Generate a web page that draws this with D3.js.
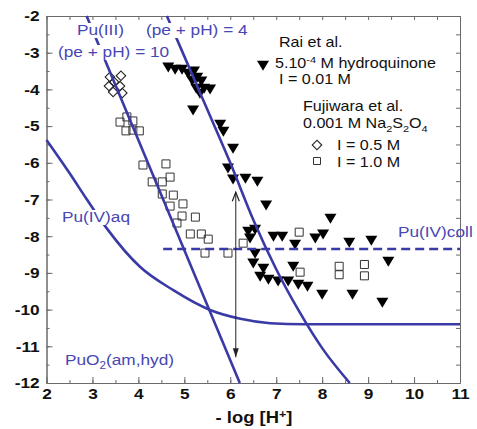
<!DOCTYPE html>
<html><head><meta charset="utf-8">
<script src="https://cdn.jsdelivr.net/npm/d3@7"></script>
<style>body{margin:0;background:#fff} svg{display:block}</style>
</head><body><svg id="c" width="477" height="429"></svg>
<script>
// ---------- data ----------
const xTicks = [2, 3, 4, 5, 6, 7, 8, 9, 10, 11];
const yTicks = [-2, -3, -4, -5, -6, -7, -8, -9, -10, -11, -12];

// Rai et al., 5.10^-4 M hydroquinone, I = 0.01 M  [-log H+, log Pu]
const raiTriangles = [
  [4.65,-3.36],[4.80,-3.42],[4.95,-3.42],[5.08,-3.53],[5.21,-3.47],[5.28,-3.64],
  [5.17,-3.72],[5.37,-3.74],[5.26,-3.94],[5.43,-3.94],[5.56,-3.96],[5.34,-4.07],
  [5.19,-4.53],[5.78,-4.92],[5.85,-5.11],[6.06,-5.57],[5.95,-6.11],[6.06,-6.41],
  [6.33,-6.39],[6.59,-6.47],[6.78,-7.12],[8.18,-7.48],[6.39,-7.83],[6.54,-7.78],
  [6.94,-7.97],[7.13,-7.97],[7.41,-8.19],[7.85,-8.02],[8.02,-7.91],[8.59,-8.13],
  [9.07,-8.08],[9.44,-8.65],[6.50,-8.70],[6.72,-8.84],[7.37,-8.79],[6.65,-9.06],
  [6.83,-9.14],[7.04,-9.19],[7.26,-9.19],[7.48,-9.28],[7.68,-9.33],[8.00,-9.55],
  [8.66,-9.55],[9.31,-9.77],[6.54,-8.43],[6.43,-8.02]
];
// Fujiwara et al., I = 0.5 M
const fujiDiamonds = [
  [3.38,-3.66],[3.62,-3.63],[3.47,-3.80],[3.36,-3.91],[3.60,-3.91],[3.45,-4.07],[3.65,-4.10]
];
// Fujiwara et al., I = 1.0 M
const fujiSquares = [
  [3.60,-4.89],[3.75,-4.75],[3.88,-4.86],[3.73,-5.13],[3.88,-5.11],[4.02,-5.13],
  [4.10,-6.06],[4.60,-6.03],[4.69,-6.39],[4.30,-6.52],[4.52,-6.52],[4.52,-6.85],
  [4.76,-6.88],[4.69,-7.18],[4.97,-7.12],[4.95,-7.45],[5.24,-7.48],[4.84,-7.64],
  [5.13,-7.94],[5.37,-7.94],[5.52,-8.08],[5.45,-8.46],[5.95,-8.46],[6.28,-8.19],
  [7.50,-7.89],[7.52,-8.98],[8.37,-8.82],[8.37,-9.05],[8.92,-8.77],[8.92,-9.08]
];
// model curves
const puIII_pe10 = [[2.873,-2],[6.207,-12]];
const puIII_pe4 = [[4.62,-2],[5.0,-3.1],[5.5,-4.55],[6.0,-6.0],[6.5,-7.55],[7.0,-8.9],[7.5,-10.05],[8.0,-11.05],[8.6,-12]];
const puIVaq = [[2,-5.38],[2.5,-6.28],[2.88,-7.0],[3.32,-7.8],[4.04,-8.84],[4.76,-9.47],[5.56,-10.01],[6.22,-10.25],[6.87,-10.37],[7.6,-10.4],[11,-10.4]];
const puIVcoll = [[4.54,-8.35],[11,-8.35]];
const rangeArrow = [[6.12,-6.8],[6.12,-11.3]];

// ---------- setup ----------
const svg = d3.select("#c");
const x = d3.scaleLinear().domain([2, 11]).range([46.5, 460]);
const y = d3.scaleLinear().domain([-2, -12]).range([16, 383]);
const FONT = "'Liberation Sans', Arial, Helvetica, sans-serif";
const SX = 1.15;
const BLUE = "#3a3aa6", TBLUE = "#4646b4", FRAME = "#6a6a6a";

// ---------- axes (inward ticks on all 4 sides) ----------
const xMinor = d3.range(2, 11.001, 0.5), yMinor = d3.range(-2, -12.001, -0.5);
function styleAxis(g){ g.selectAll("path,line").attr("stroke", FRAME).attr("stroke-width", 1); }
svg.append("g").attr("transform", `translate(0,${y(-12)})`)
  .call(d3.axisBottom(x).tickValues(xMinor).tickSizeInner(-3).tickSizeOuter(0).tickFormat(""))
  .call(styleAxis);
const gx = svg.append("g").attr("transform", `translate(0,${y(-12)})`)
  .call(d3.axisBottom(x).tickValues(xTicks).tickSizeInner(-6).tickSizeOuter(0).tickPadding(5).tickFormat(d3.format("d")))
  .call(styleAxis);
svg.append("g").attr("transform", `translate(0,${y(-2)})`)
  .call(d3.axisTop(x).tickValues(xMinor).tickSizeInner(-4).tickSizeOuter(0).tickFormat(""))
  .call(styleAxis);
svg.append("g").attr("transform", `translate(${x(2)},0)`)
  .call(d3.axisLeft(y).tickValues(yMinor).tickSizeInner(-3).tickSizeOuter(0).tickFormat(""))
  .call(styleAxis);
const gy = svg.append("g").attr("transform", `translate(${x(2)},0)`)
  .call(d3.axisLeft(y).tickValues(yTicks).tickSizeInner(-6).tickSizeOuter(0).tickPadding(6).tickFormat(d3.format("d")))
  .call(styleAxis);
svg.append("g").attr("transform", `translate(${x(11)},0)`)
  .call(d3.axisRight(y).tickValues(yMinor).tickSizeInner(-4).tickSizeOuter(0).tickFormat(""))
  .call(styleAxis);
[gx, gy].forEach(g => g.selectAll("text")
  .attr("fill", "#111").attr("font-family", FONT).attr("font-size", 15).attr("font-weight", "bold")
  .attr("transform", `scale(${SX},1)`));
gy.selectAll("text").text(d => d < 0 ? "-" + Math.abs(d) : d);

// ---------- markers ----------
const downTri = { draw(ctx, size){ const s = Math.sqrt(size), hw = s*0.6;
  ctx.moveTo(-hw, -s/3); ctx.lineTo(hw, -s/3); ctx.lineTo(0, 2*s/3); ctx.closePath(); } };
svg.append("g").selectAll("path").data(raiTriangles).join("path")
  .attr("transform", d => `translate(${x(d[0])},${y(d[1])})`)
  .attr("d", d3.symbol().type(downTri).size(100)).attr("fill", "#000");
svg.append("g").selectAll("path").data(fujiSquares).join("path")
  .attr("transform", d => `translate(${x(d[0])},${y(d[1])})`)
  .attr("d", d3.symbol().type(d3.symbolSquare).size(64))
  .attr("fill", "none").attr("stroke", "#333").attr("stroke-width", 1);
svg.append("g").selectAll("path").data(fujiDiamonds).join("path")
  .attr("transform", d => `translate(${x(d[0])},${y(d[1])}) rotate(45)`)
  .attr("d", d3.symbol().type(d3.symbolSquare).size(45))
  .attr("fill", "none").attr("stroke", "#222").attr("stroke-width", 1.1);

// ---------- curves, with label boxes masked out ----------
const labelBoxes = [
  [76, 23, 50, 15], [57, 45, 114, 15], [145, 23, 104, 15],
  [61, 210, 72, 15], [64, 353, 114, 15], [397, 225, 76, 15]
];
const mask = svg.append("defs").append("mask").attr("id", "lblmask")
  .attr("maskUnits", "userSpaceOnUse").attr("x", 0).attr("y", 0).attr("width", 477).attr("height", 429);
mask.append("rect").attr("x", 0).attr("y", 0).attr("width", 477).attr("height", 429).attr("fill", "white");
mask.selectAll("rect.hole").data(labelBoxes).join("rect").attr("class", "hole")
  .attr("x", d => d[0]).attr("y", d => d[1]).attr("width", d => d[2]).attr("height", d => d[3]).attr("fill", "black");

const line = d3.line().x(d => x(d[0])).y(d => y(d[1])).curve(d3.curveMonotoneX);
const lines = svg.append("g").attr("mask", "url(#lblmask)")
  .attr("fill", "none").attr("stroke", BLUE).attr("stroke-width", 2.6);
lines.append("path").attr("d", line(puIII_pe10));
lines.append("path").attr("d", line(puIII_pe4));
lines.append("path").attr("d", line(puIVaq));
lines.append("path").attr("d", line(puIVcoll)).attr("stroke-dasharray", "9,5");

// double arrow
const ax = x(rangeArrow[0][0]), ay1 = y(rangeArrow[0][1]), ay2 = y(rangeArrow[1][1]);
svg.append("line").attr("x1", ax).attr("x2", ax).attr("y1", ay1).attr("y2", ay2)
  .attr("stroke", "#222").attr("stroke-width", 1);
svg.append("path").attr("d", `M${ax-3.5},${ay1+9} L${ax},${ay1} L${ax+3.5},${ay1+9}`)
  .attr("fill", "none").attr("stroke", "#222").attr("stroke-width", 1.2);
svg.append("path").attr("d", `M${ax-3},${ay2-9} L${ax},${ay2} L${ax+3},${ay2-9} Z`)
  .attr("fill", "#222");

// ---------- text ----------
function label(px, py, parts, opt = {}){
  const g = svg.append("g").attr("transform", `translate(${px},${py}) scale(${SX},1)`);
  const t = g.append("text")
    .attr("font-family", FONT).attr("font-size", opt.size || 14)
    .attr("font-weight", opt.weight || "normal")
    .attr("fill", opt.fill || "#111")
    .attr("text-anchor", opt.anchor || "start");
  const base = opt.size || 14;
  let shift = 0;
  parts.forEach(p => {
    const s = typeof p === "string" ? {t: p} : p;
    const want = s.sup ? -5 : s.sub ? 4 : 0;
    const ts = t.append("tspan").text(s.t)
      .attr("font-size", (s.sup || s.sub) ? base * 0.68 : base);
    if (want !== shift) { ts.attr("dy", want - shift); shift = want; }
  });
  return t;
}
const blue = { size: 15, fill: TBLUE };
label(77, 35, ["Pu(III)"], blue);
label(58, 57, ["(pe + pH) = 10"], blue);
label(146, 35, ["(pe + pH) = 4"], blue);
label(62, 222, ["Pu(IV)aq"], blue);
label(65, 365, ["PuO", {t: "2", sub: true}, "(am,hyd)"], blue);
label(398, 237, ["Pu(IV)coll"], blue);

label(279, 47, ["Rai et al."]);
label(275, 68, ["5.10", {t: "-4", sup: true}, " M hydroquinone"]);
label(279, 84, ["I = 0.01 M"]);
label(303, 111, ["Fujiwara et al."]);
label(303, 128, ["0.001 M Na", {t: "2", sub: true}, "S", {t: "2", sub: true}, "O", {t: "4", sub: true}]);
label(337, 150, ["I = 0.5 M"]);
label(337, 167, ["I = 1.0 M"]);
// legend markers
svg.append("path").attr("transform", "translate(263,64)")
  .attr("d", d3.symbol().type(downTri).size(100)).attr("fill", "#000");
svg.append("path").attr("transform", "translate(317,145) rotate(45)")
  .attr("d", d3.symbol().type(d3.symbolSquare).size(45))
  .attr("fill", "none").attr("stroke", "#222").attr("stroke-width", 1.1);
svg.append("path").attr("transform", "translate(317,161)")
  .attr("d", d3.symbol().type(d3.symbolSquare).size(49))
  .attr("fill", "none").attr("stroke", "#333").attr("stroke-width", 1);

// x-axis title
label(254, 423, ["- log [H", {t: "+", sup: true}, "]"], { size: 16, weight: "bold", anchor: "middle" });
</script></body></html>
